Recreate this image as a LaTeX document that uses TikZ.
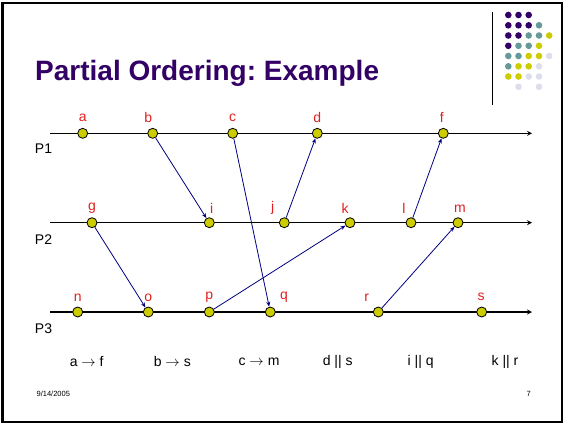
\documentclass[tikz,border=0pt]{standalone}
\usepackage{fontspec}
\setmainfont{Liberation Sans}
\usetikzlibrary{arrows.meta}
\definecolor{ttlpurple}{HTML}{330066}
\definecolor{dotteal}{HTML}{669999}
\definecolor{dotyellow}{HTML}{CCCC00}
\definecolor{dotlilac}{HTML}{DDDDEE}
\definecolor{evred}{HTML}{E02020}
\definecolor{msgblue}{HTML}{000080}
\frenchspacing
\begin{document}
\begin{tikzpicture}[x=1pt,y=-1pt,every node/.style={font=\fontsize{14}{16}\selectfont,inner sep=0pt},
  ev/.style={circle,draw,fill=dotyellow,minimum size=10pt,line width=.8pt},
  evlab/.style={text=evred},
  msg/.style={draw=msgblue,line width=.8pt,-{Stealth[length=5pt,width=4pt]}},
  tl/.style={line width=1.4pt,-{Stealth[length=5pt,width=5pt]}}]
\useasboundingbox (0,0) rectangle (564,424);
\draw[line width=2.5pt] (2.6,2.8) rectangle (562,422);
\node[anchor=base west,text=ttlpurple,font=\fontsize{28}{32}\selectfont\bfseries] (title) at (35,80) {Partial Ordering: Example};
\draw[line width=.9pt] (492.3,11.7) -- (492.3,105);
\fill[ttlpurple] (508.3,15) circle (3.3) (518.5,15) circle (3.3) (528.7,15) circle (3.3)
  (508.3,25.3) circle (3.3) (518.5,25.3) circle (3.3) (528.7,25.3) circle (3.3)
  (508.3,35.5) circle (3.3) (518.5,35.5) circle (3.3) (508.3,45.8) circle (3.3);
\fill[dotteal] (539,25.3) circle (3.3) (528.7,35.5) circle (3.3) (539,35.5) circle (3.3)
  (518.5,45.8) circle (3.3) (528.7,45.8) circle (3.3) (508.3,56) circle (3.3)
  (518.5,56) circle (3.3) (508.3,66.3) circle (3.3);
\fill[dotyellow] (549.2,35.5) circle (3.3) (539,45.8) circle (3.3) (528.7,56) circle (3.3)
  (539,56) circle (3.3) (518.5,66.3) circle (3.3) (528.7,66.3) circle (3.3)
  (508.3,76.5) circle (3.3) (518.5,76.5) circle (3.3);
\fill[dotlilac] (549.2,56) circle (3.3) (539,66.3) circle (3.3) (528.7,76.5) circle (3.3)
  (539,76.5) circle (3.3) (518.5,86.8) circle (3.3) (539,86.8) circle (3.3);
\coordinate (p1s) at (50,133.3);
\coordinate (p1e) at (532,133.3);
\coordinate (p2s) at (50,222.7);
\coordinate (p2e) at (532,222.7);
\coordinate (p3s) at (50,312);
\coordinate (p3e) at (532,312);
\draw[tl] (p1s) -- (p1e);
\draw[tl] (p2s) -- (p2e);
\draw[tl] (p3s) -- (p3e);
\node (P1) at (43.5,149) {P1};
\node (P2) at (43.5,239.3) {P2};
\node (P3) at (43.5,329) {P3};
\node[ev] (a) at (82.7,133.3) {};\node[evlab] (ta) at (82.7,117.3) {a};
\node[ev] (b) at (152.7,133.3) {};\node[evlab] (tb) at (148.3,117.3) {b};
\node[ev] (c) at (232.7,133.3) {};\node[evlab] (tc) at (232.7,117.3) {c};
\node[ev] (d) at (317.3,133.3) {};\node[evlab] (td) at (317.3,117.3) {d};
\node[ev] (f) at (443.3,133.3) {};\node[evlab] (tf) at (441.7,117.3) {f};
\node[ev] (g) at (92,222.7) {};\node[evlab] (tg) at (92,208.3) {g};
\node[ev] (i) at (209.3,222.7) {};\node[evlab] (ti) at (211.7,208.3) {i};
\node[ev] (j) at (284.3,222.7) {};\node[evlab] (tj) at (272.7,208.3) {j};
\node[ev] (k) at (350,222.7) {};\node[evlab] (tk) at (345,208.3) {k};
\node[ev] (l) at (411,222.7) {};\node[evlab] (tl) at (404,208.3) {l};
\node[ev] (m) at (458,222.7) {};\node[evlab] (tm) at (460,208.3) {m};
\node[ev] (n) at (77.7,312) {};\node[evlab] (tn) at (77.7,297.3) {n};
\node[ev] (o) at (148.3,312) {};\node[evlab] (to) at (148.3,297.3) {o};
\node[ev] (p) at (209.3,312) {};\node[evlab] (tp) at (209.3,297.3) {p};
\node[ev] (q) at (270.3,312) {};\node[evlab] (tq) at (284,297.3) {q};
\node[ev] (r) at (378.3,312) {};\node[evlab] (tr) at (366.7,297.3) {r};
\node[ev] (s) at (481.7,312) {};\node[evlab] (ts) at (481,297.3) {s};
\draw[msg] (b) -- (i);
\draw[msg] (c) -- (q);
\draw[msg] (j) -- (d);
\draw[msg] (l) -- (f);
\draw[msg] (g) -- (o);
\draw[msg] (p) -- (k);
\draw[msg] (r) -- (m);
\node (r1) at (86.7,361.7) {a $\rightarrow$ f};
\node (r2) at (172.3,361.7) {b $\rightarrow$ s};
\node (r3) at (259,361.7) {c $\rightarrow$ m};
\node (r4) at (337.7,361.7) {d || s};
\node (r5) at (420.7,361.7) {i || q};
\node (r6) at (505,361.7) {k || r};
\node[font=\fontsize{7.5}{9}\selectfont] (date) at (53.3,394) {9/14/2005};
\node[font=\fontsize{7.5}{9}\selectfont] (page) at (528.7,394) {7};
\end{tikzpicture}
\end{document}
